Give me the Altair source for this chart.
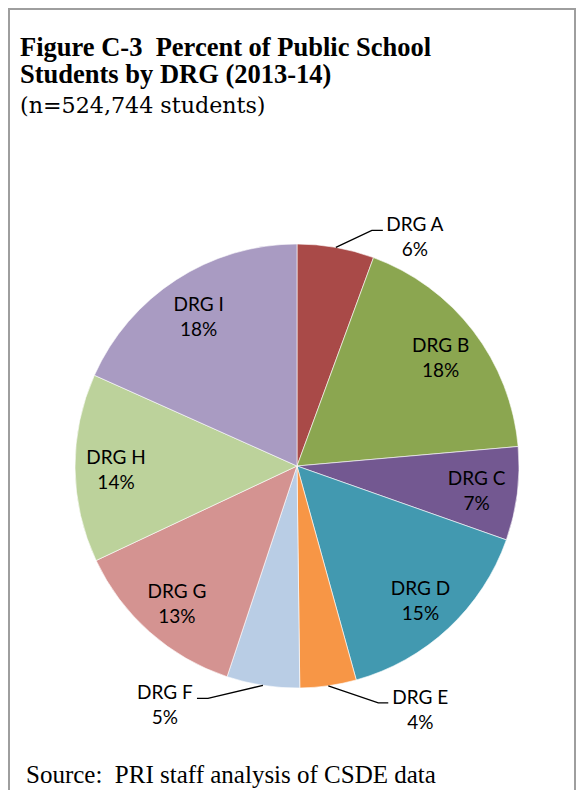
import altair as alt
import pandas as pd
import numpy as np

# ---- data ----
names = ["DRG A", "DRG B", "DRG C", "DRG D", "DRG E", "DRG F", "DRG G", "DRG H", "DRG I"]
shares = [5.6, 18.0, 6.8, 15.3, 4.1, 5.3, 12.9, 13.7, 18.3]
pct_labels = ["6%", "18%", "7%", "15%", "4%", "5%", "13%", "14%", "18%"]
colors = ["#A94A48", "#8BA650", "#735891", "#4299B0", "#F79646",
          "#B9CDE5", "#D49391", "#BCD29B", "#A99BC2"]
outside = ["DRG A", "DRG E", "DRG F"]

title_lines = ["Figure C-3\u00a0 Percent of Public School", "Students by DRG (2013-14)"]
subtitle = "(n=524,744 students)"
source = "Source:\u00a0 PRI staff analysis of CSDE data"

# ---- layout ----
W, H = 568, 782
CX, CY, R = 289, 458, 222
LABEL_R = 181
LH = 25
# callout leader: (elbow offset from slice edge, horizontal run)
callout = {"DRG A": ((36, -17), 11), "DRG E": ((50, 17), 10), "DRG F": ((-55, 13), -11)}

df = pd.DataFrame({"name": names, "share": shares, "pct": pct_labels, "idx": range(len(names))})
df["inner"] = ["" if n in outside else f"{n}\n{p}" for n, p in zip(names, pct_labels)]

# leader lines derived from slice mid-angles
sh = np.array(shares, dtype=float)
mid = (np.cumsum(sh) - sh / 2) / sh.sum() * 2 * np.pi
line_rows, lab_rows = [], []
for i, n in enumerate(names):
    if n not in callout:
        continue
    (dx, dy), run = callout[n]
    ex, ey = CX + R * np.sin(mid[i]), CY - R * np.cos(mid[i])
    bx, by = ex + dx, ey + dy
    fx, fy = bx + run, by
    for k, (px, py) in enumerate([(ex, ey), (bx, by), (fx, fy)]):
        line_rows.append({"name": n, "k": k, "x": px, "y": py})
    sgn = 1 if run > 0 else -1
    lab_rows.append({"name": n, "x": fx + sgn * 32, "y": fy - 5, "lbl": f"{n}\n{pct_labels[i]}"})
lines_df = pd.DataFrame(line_rows)
labs_df = pd.DataFrame(lab_rows)

xs = alt.Scale(domain=[0, W], range=[0, W])
ys = alt.Scale(domain=[0, H], range=[0, H])

base = alt.Chart(df)
arcs = base.mark_arc(outerRadius=R, stroke="white", strokeWidth=0.6).encode(
    theta=alt.Theta("share:Q", stack=True),
    color=alt.Color("name:N", scale=alt.Scale(domain=names, range=colors), legend=None),
    order=alt.Order("idx:Q"),
    x=alt.value(CX), y=alt.value(CY),
)
inner = base.mark_text(radius=LABEL_R, font="Lato", fontSize=19, lineBreak="\n",
                       lineHeight=LH, dy=-9.5, color="black", baseline="middle").encode(
    theta=alt.Theta("share:Q", stack=True),
    order=alt.Order("idx:Q"),
    text="inner:N",
    x=alt.value(CX), y=alt.value(CY),
)
leaders = alt.Chart(lines_df).mark_line(color="black", strokeWidth=1.3).encode(
    x=alt.X("x:Q", scale=xs, axis=None),
    y=alt.Y("y:Q", scale=ys, axis=None),
    detail="name:N",
    order="k:Q",
)
out_labels = alt.Chart(labs_df).mark_text(font="Lato", fontSize=19, lineBreak="\n",
                                           lineHeight=LH, color="black", baseline="middle").encode(
    x=alt.X("x:Q", scale=xs, axis=None),
    y=alt.Y("y:Q", scale=ys, axis=None),
    text="lbl:N",
)

one = pd.DataFrame({"a": [0]})


def txt(s, x, y, **kw):
    return alt.Chart(one).mark_text(text=s, align="left", baseline="alphabetic",
                                    color="black", **kw).encode(x=alt.value(x), y=alt.value(y))


t1 = txt(title_lines[0], 12, 48, font="Liberation Serif", fontWeight="bold", fontSize=26.5)
t2 = txt(title_lines[1], 12, 75, font="Liberation Serif", fontWeight="bold", fontSize=26.5)
t3 = txt(subtitle, 12, 105, font="DejaVu Serif", fontSize=22.2)
src = txt(source, 18, 775, font="Liberation Serif", fontSize=25)
frame = alt.Chart(one).mark_rect(fillOpacity=0, stroke="#9E9E9E", strokeWidth=2).encode(
    x=alt.value(1), x2=alt.value(W - 1), y=alt.value(1), y2=alt.value(H + 30))

chart = alt.layer(frame, arcs, inner, leaders, out_labels, t1, t2, t3, src).properties(
    width=W, height=H, padding=0, autosize=alt.AutoSizeParams(type="none"),
    background="white",
).configure_view(stroke=None)

chart.save("out.html", embed_options={"renderer": "svg", "actions": False})
